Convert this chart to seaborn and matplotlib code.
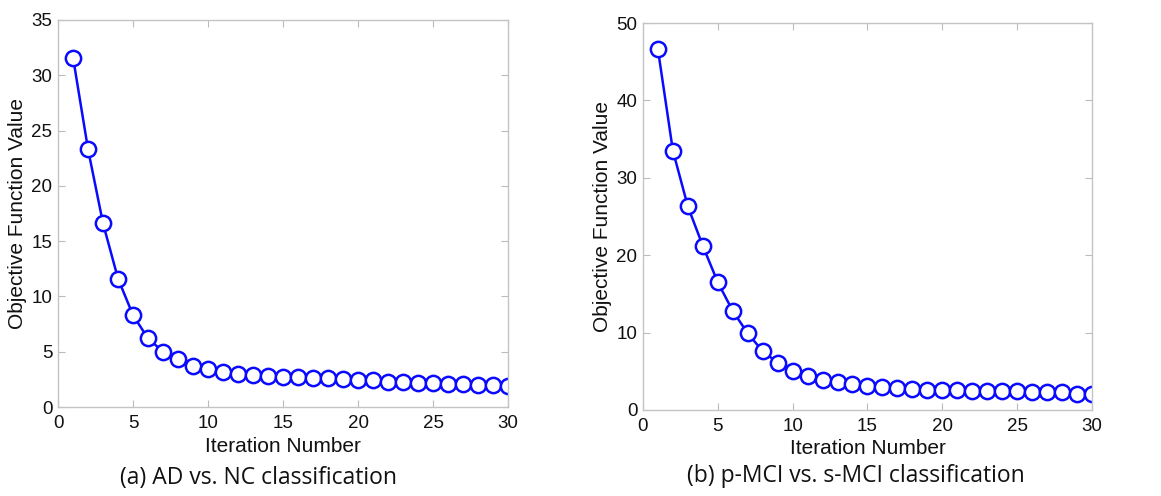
import numpy as np
import pandas as pd
import seaborn as sns
import matplotlib
matplotlib.use("Agg")
import matplotlib.pyplot as plt

iterations = list(range(1, 31))
ad_nc = [31.6, 23.3, 16.6, 11.6, 8.3, 6.2, 5.0, 4.3, 3.7, 3.4,
         3.2, 3.0, 2.9, 2.8, 2.7, 2.7, 2.6, 2.6, 2.5, 2.4,
         2.4, 2.3, 2.3, 2.2, 2.2, 2.1, 2.1, 2.0, 2.0, 1.9]
pmci_smci = [46.6, 33.5, 26.3, 21.2, 16.5, 12.8, 9.9, 7.6, 6.1, 5.1,
             4.4, 3.9, 3.6, 3.3, 3.1, 3.0, 2.8, 2.7, 2.6, 2.6,
             2.6, 2.4, 2.4, 2.4, 2.4, 2.3, 2.3, 2.3, 2.1, 2.1]
captions = ["(a) AD vs. NC classification", "(b) p-MCI vs. s-MCI classification"]
x_ticks = [0, 5, 10, 15, 20, 25, 30]
y_ticks_a = [0, 5, 10, 15, 20, 25, 30, 35]
y_ticks_b = [0, 10, 20, 30, 40, 50]

sns.set_style("white")
plt.rcParams['font.family'] = ['Liberation Sans', 'DejaVu Sans']

fig = plt.figure(figsize=(11.61, 4.96), dpi=100)
ax1 = fig.add_axes([0.050, 0.1794, 0.3876, 0.7803])
ax2 = fig.add_axes([0.5538, 0.1734, 0.3867, 0.7802])

panels = [(ax1, ad_nc, y_ticks_a, captions[0], 0.223, 0.036),
          (ax2, pmci_smci, y_ticks_b, captions[1], 0.737, 0.040)]

for ax, vals, yt, cap, cx, cy in panels:
    df = pd.DataFrame({"Iteration": iterations, "Value": vals})
    sns.lineplot(data=df, x="Iteration", y="Value", ax=ax, color="#0a0aff",
                 linewidth=1.8, marker="o", markersize=11,
                 markerfacecolor="white", markeredgecolor="#0a0aff",
                 markeredgewidth=1.8)
    ax.set_xlim(0, 30)
    ax.set_ylim(yt[0], yt[-1])
    ax.set_xticks(x_ticks)
    ax.set_yticks(yt)
    ax.tick_params(direction="in", length=5, color="#bbbbbb", labelsize=13.5,
                   top=True, right=True, bottom=True, left=True,
                   labelcolor="#111111")
    ax.tick_params(axis="x", pad=6)
    ax.tick_params(axis="y", pad=4)
    for s in ax.spines.values():
        s.set_color("#c4c4c4")
        s.set_linewidth(1.0)
    ax.set_xlabel("Iteration Number", fontsize=15, labelpad=3, color="#111111")
    ax.set_ylabel("Objective Function Value", fontsize=15, labelpad=3, color="#111111")
    fig.text(cx, cy, cap, ha="center", va="center", fontsize=16.5,
             family=["Open Sans", "DejaVu Sans"], color="#111111")

fig.savefig("out.png", dpi=100)
